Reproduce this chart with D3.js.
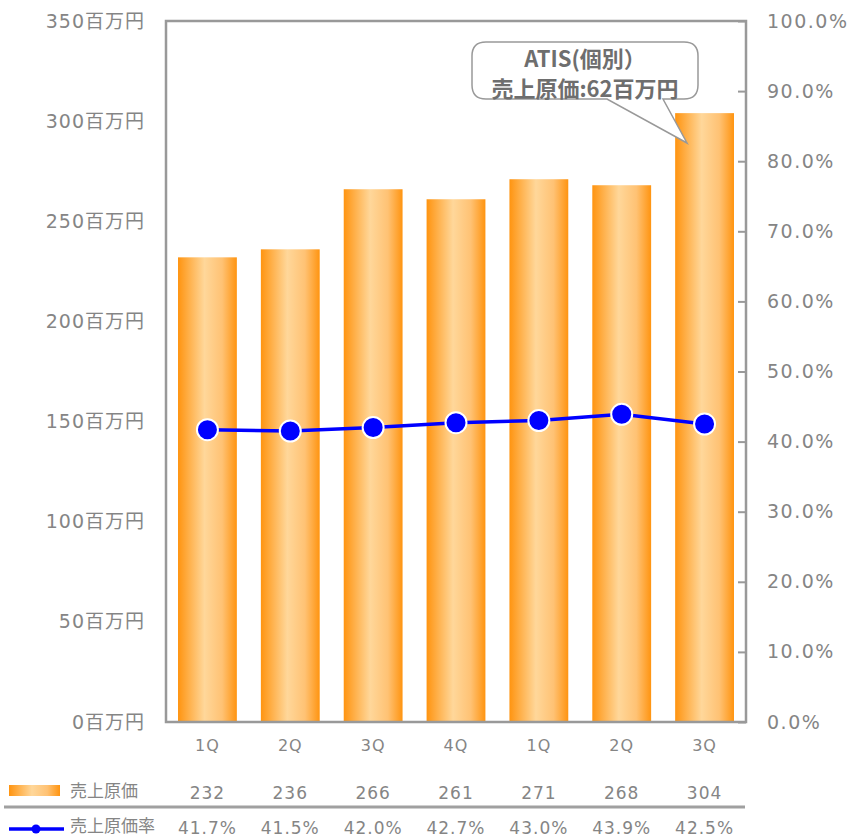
<!DOCTYPE html>
<html><head><meta charset="utf-8">
<script src="https://cdn.jsdelivr.net/npm/d3@7"></script>
<style>body{margin:0;background:#fff}text{font-family:"DejaVu Sans","Noto Sans CJK JP",sans-serif}</style>
</head><body><svg id="c" width="856" height="836"></svg>
<script>
const categories = ["1Q","2Q","3Q","4Q","1Q","2Q","3Q"];
const costValues = [232,236,266,261,271,268,304];
const rateValues = [41.7,41.5,42.0,42.7,43.0,43.9,42.5];
const leftTicks = [0,50,100,150,200,250,300,350];
const rightTicks = [0,10,20,30,40,50,60,70,80,90,100];
const seriesNames = ["売上原価","売上原価率"];
const calloutLines = ["ATIS(個別）","売上原価:62百万円"];

const svg = d3.select("#c");
const L=166, R=746, T=21, B=722;
const x = d3.scaleBand().domain(d3.range(categories.length)).range([L,R]).paddingInner(0.29).paddingOuter(0.145);
const y = d3.scaleLinear().domain([0,350]).range([B,T]);
const y2 = d3.scaleLinear().domain([0,100]).range([B,T]);
const grey="#858585";

const defs=svg.append("defs");
const g=defs.append("linearGradient").attr("id","bg").attr("x1","0").attr("x2","1").attr("y1","0").attr("y2","0");
g.append("stop").attr("offset","0").attr("stop-color","#FF9410");
g.append("stop").attr("offset","0.45").attr("stop-color","#FFD79A");
g.append("stop").attr("offset","0.75").attr("stop-color","#FFC274");
g.append("stop").attr("offset","1").attr("stop-color","#FF9410");

// bars
svg.selectAll("rect.bar").data(costValues).join("rect").attr("class","bar")
  .attr("x",(d,i)=>x(i)).attr("width",x.bandwidth())
  .attr("y",d=>y(d)).attr("height",d=>B-y(d)).attr("fill","url(#bg)");

// frame
svg.append("path").attr("d",`M${L},${T}H${R}V${B}H${L}Z`).attr("fill","none").attr("stroke","#999").attr("stroke-width",2.5);

// left axis
const la=svg.append("g").attr("transform",`translate(${L},0)`).call(d3.axisLeft(y).tickValues(leftTicks).tickSize(0).tickPadding(21).tickFormat(d=>d+"百万円"));
la.select(".domain").remove();
la.selectAll("text").attr("fill",grey).style("font-size","19px").style("letter-spacing","1px");

// right axis
const ra=svg.append("g").attr("transform",`translate(${R},0)`).call(d3.axisRight(y2).tickValues(rightTicks).tickSize(-8).tickPadding(21).tickFormat(d=>d.toFixed(1)+"%"));
ra.select(".domain").remove();
ra.selectAll("line").attr("stroke","#999").attr("stroke-width",2);
ra.selectAll("text").attr("fill",grey).style("font-size","19px").style("letter-spacing","1.5px");

// category labels
svg.selectAll("text.cat").data(categories).join("text").attr("class","cat")
  .attr("x",(d,i)=>x(i)+x.bandwidth()/2).attr("y",751).attr("text-anchor","middle")
  .attr("fill",grey).style("font-size","16px").style("letter-spacing","1px").text(d=>d);

// line
const cx=i=>x(i)+x.bandwidth()/2;
svg.append("path").datum(rateValues).attr("fill","none").attr("stroke","#0000FF").attr("stroke-width",3.5)
  .attr("d",d3.line().x((d,i)=>cx(i)).y(d=>y2(d)));
svg.selectAll("circle.pt").data(rateValues).join("circle").attr("class","pt")
  .attr("cx",(d,i)=>cx(i)).attr("cy",d=>y2(d)).attr("r",10.5)
  .attr("fill","#0000FF").attr("stroke","#fff").attr("stroke-width",2);

// callout
const cg=svg.append("g");
cg.append("path").attr("d","M486,42 H684 Q698,42 698,56 V85 Q698,99 684,99 H663 L687,143 L607,99 H486 Q472,99 472,85 V56 Q472,42 486,42 Z")
  .attr("fill","#fff").attr("stroke","#999").attr("stroke-width",1.5);
cg.selectAll("text").data(calloutLines).join("text").attr("x",585).attr("y",(d,i)=>67+i*30)
  .attr("text-anchor","middle").attr("fill","#6e6e6e").style("font-size","22px").style("font-weight","bold")
  .style("font-family","'Noto Sans CJK JP',sans-serif").text(d=>d);

// table
svg.append("rect").attr("x",9).attr("y",785).attr("width",51).attr("height",11).attr("fill","url(#bg)");
svg.append("text").attr("x",70).attr("y",797).attr("fill",grey).style("font-size","17px").text(seriesNames[0]);
svg.append("line").attr("x1",4).attr("x2",745).attr("y1",807).attr("y2",807).attr("stroke","#a0a0a0").attr("stroke-width",3);
svg.append("line").attr("x1",9).attr("x2",64).attr("y1",829).attr("y2",829).attr("stroke","#0000FF").attr("stroke-width",3.5);
svg.append("circle").attr("cx",36).attr("cy",829).attr("r",4.5).attr("fill","#0000FF");
svg.append("text").attr("x",70).attr("y",832).attr("fill",grey).style("font-size","17px").text(seriesNames[1]);
svg.selectAll("text.v1").data(costValues).join("text").attr("class","v1")
  .attr("x",(d,i)=>cx(i)).attr("y",799).attr("text-anchor","middle").attr("fill",grey).style("font-size","17px").style("letter-spacing","1px").text(d=>d);
svg.selectAll("text.v2").data(rateValues).join("text").attr("class","v2")
  .attr("x",(d,i)=>cx(i)).attr("y",834).attr("text-anchor","middle").attr("fill",grey).style("font-size","17px").style("letter-spacing","1px").text(d=>d.toFixed(1)+"%");
</script></body></html>
